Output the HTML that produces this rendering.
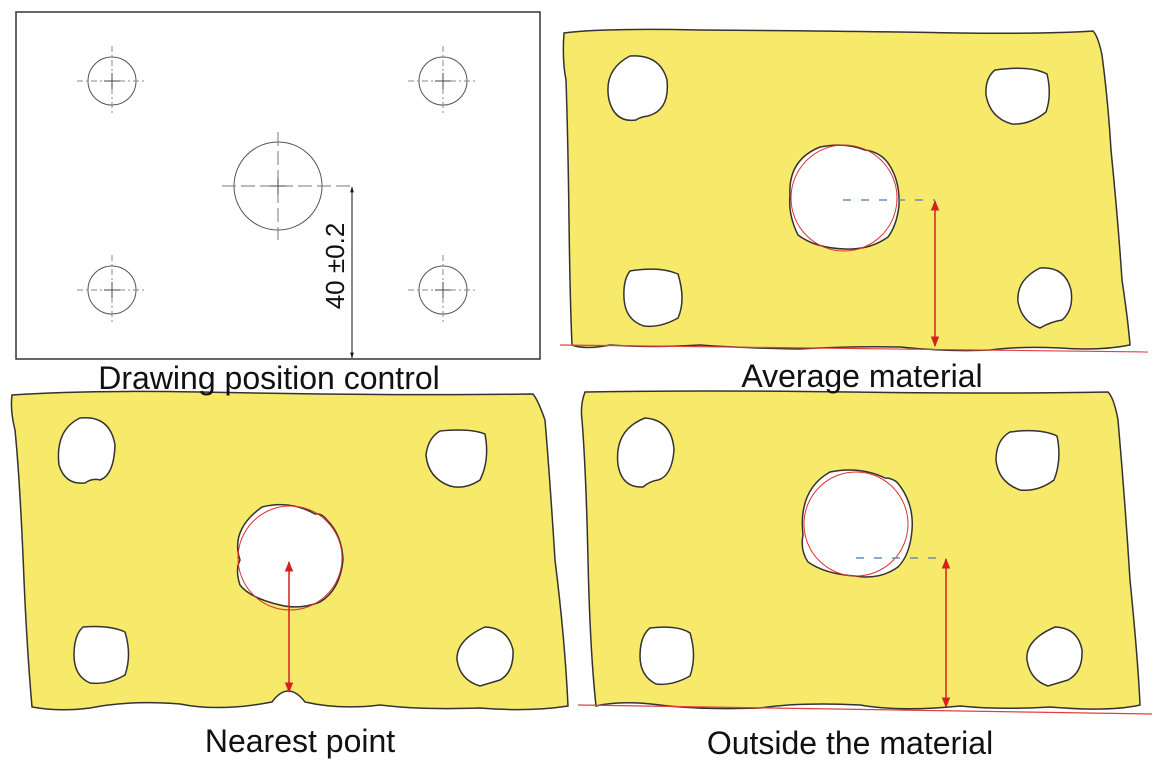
<!DOCTYPE html>
<html><head><meta charset="utf-8"><style>
html,body{margin:0;padding:0;background:#fff;}
svg{display:block;}
text{font-family:"Liberation Sans",sans-serif;fill:#111;}
</style></head><body>
<svg width="1163" height="764" viewBox="0 0 1163 764" xmlns="http://www.w3.org/2000/svg">
<defs>
<marker id="ar" viewBox="0 0 10 10" refX="9" refY="5" markerWidth="7" markerHeight="7" orient="auto-start-reverse"><path d="M0,1 L10,5 L0,9 z" fill="#d42020"/></marker>
<marker id="ak" viewBox="0 0 10 10" refX="9" refY="5" markerWidth="6" markerHeight="6" orient="auto-start-reverse"><path d="M0,2 L10,5 L0,8 z" fill="#111"/></marker>
</defs>

<!-- Panel 1 -->
<rect x="16" y="12" width="524" height="347" fill="#fff" stroke="#333" stroke-width="1.5"/>
<g fill="none" stroke="#555" stroke-width="1">
<circle cx="112" cy="81" r="24"/><circle cx="443" cy="81" r="24"/>
<circle cx="112" cy="290" r="24"/><circle cx="443" cy="290" r="24"/>
<circle cx="278" cy="186" r="44"/>
</g>
<g stroke="#888" stroke-width="1" stroke-dasharray="6,3,2,3">
<line x1="77" y1="81" x2="147" y2="81"/><line x1="112" y1="46" x2="112" y2="116"/>
<line x1="408" y1="81" x2="478" y2="81"/><line x1="443" y1="46" x2="443" y2="116"/>
<line x1="77" y1="290" x2="147" y2="290"/><line x1="112" y1="255" x2="112" y2="325"/>
<line x1="408" y1="290" x2="478" y2="290"/><line x1="443" y1="255" x2="443" y2="325"/>
</g>
<g stroke="#777" stroke-width="1" stroke-dasharray="14,5">
<line x1="222" y1="186" x2="355" y2="186"/><line x1="278" y1="132" x2="278" y2="240"/>
</g>
<g stroke="#444" stroke-width="1">
<line x1="104" y1="81" x2="120" y2="81"/><line x1="112" y1="73" x2="112" y2="89"/>
<line x1="435" y1="81" x2="451" y2="81"/><line x1="443" y1="73" x2="443" y2="89"/>
<line x1="104" y1="290" x2="120" y2="290"/><line x1="112" y1="282" x2="112" y2="298"/>
<line x1="435" y1="290" x2="451" y2="290"/><line x1="443" y1="282" x2="443" y2="298"/>
<line x1="270" y1="186" x2="286" y2="186"/><line x1="278" y1="178" x2="278" y2="194"/>
</g>
<line x1="352" y1="187" x2="352" y2="358" stroke="#111" stroke-width="1" marker-start="url(#ak)" marker-end="url(#ak)"/>
<text x="0" y="0" font-size="26" text-anchor="middle" transform="translate(344,266) rotate(-90)">40 ±0.2</text>

<!-- Panel 2 -->
<path d="M564,33 Q600,28 700,30 Q850,31 960,33 Q1050,34 1093,31 Q1098,36 1102,55 Q1108,100 1111,150 Q1118,220 1122,280 Q1128,320 1130,345 Q1100,351 1060,348 Q1020,346 990,350 Q950,352 900,347 Q850,346 800,349 Q740,348 700,345 Q650,348 610,345 Q585,350 572,345 Q570,300 569,220 Q568,140 566,80 Q562,60 564,33 Z" fill="#f7e96a" stroke="#333" stroke-width="1.5"/>
<g fill="#fff" stroke="#333" stroke-width="1.5">
<path d="M630,56 Q660,54 667,80 Q670,110 648,116 Q640,117 636,120 Q615,123 609,100 Q603,70 630,56 Z"/>
<path d="M995,70 Q1030,65 1047,74 Q1052,95 1046,112 Q1030,125 1012,124 Q990,118 986,95 Q985,78 995,70 Z"/>
<path d="M630,271 Q660,266 678,274 Q686,300 678,318 Q660,328 644,326 Q625,320 624,298 Q623,280 630,271 Z"/>
<path d="M1040,268 Q1065,266 1071,290 Q1074,310 1062,320 Q1050,322 1040,328 Q1022,322 1018,302 Q1016,280 1040,268 Z"/>
<path d="M820,147 Q845,142 865,150 Q880,152 888,163 Q900,180 899,205 Q897,225 888,237 Q870,250 845,249 Q815,248 798,235 Q788,215 790,195 Q788,160 820,147 Z"/>
</g>
<circle cx="844" cy="198" r="53" fill="none" stroke="#e03030" stroke-width="1"/>
<line x1="843" y1="200" x2="935" y2="200" stroke="#6a8fb8" stroke-width="1.5" stroke-dasharray="8,10"/>
<line x1="560" y1="345" x2="1148" y2="352" stroke="#e04040" stroke-width="1.2"/>
<line x1="935" y1="201" x2="935" y2="346" stroke="#d42020" stroke-width="1.5" marker-start="url(#ar)" marker-end="url(#ar)"/>

<!-- Panel 3 -->
<path d="M12,395 Q80,390 200,392 Q400,396 533,394 Q538,400 545,420 Q550,480 555,560 Q565,640 568,706 Q530,712 480,708 Q420,710 380,705 Q340,710 305,702 Q288,680 272,702 Q220,712 180,704 Q130,700 90,708 Q60,712 32,707 Q27,650 24,580 Q20,480 15,430 Q10,410 12,395 Z" fill="#f7e96a" stroke="#333" stroke-width="1.5"/>
<g fill="#fff" stroke="#333" stroke-width="1.5">
<path d="M80,418 Q110,415 115,445 Q114,475 100,480 Q92,478 85,483 Q65,485 59,465 Q55,430 80,418 Z"/>
<path d="M440,431 Q470,428 485,434 Q490,460 480,480 Q465,490 450,486 Q428,478 426,455 Q428,438 440,431 Z"/>
<path d="M83,627 Q110,625 125,632 Q132,655 125,675 Q108,685 90,683 Q74,676 74,655 Q74,635 83,627 Z"/>
<path d="M485,627 Q508,628 513,650 Q514,672 500,680 Q490,683 480,686 Q460,680 457,660 Q456,640 485,627 Z"/>
<path d="M262,507 Q290,500 315,514 Q322,513 327,520 Q342,535 343,560 Q340,590 320,602 Q300,610 280,605 Q250,598 240,585 Q235,570 240,560 Q230,530 262,507 Z"/>
</g>
<circle cx="290" cy="558" r="52" fill="none" stroke="#e03030" stroke-width="1"/>
<line x1="289" y1="562" x2="289" y2="692" stroke="#d42020" stroke-width="1.5" marker-start="url(#ar)" marker-end="url(#ar)"/>

<!-- Panel 4 -->
<path d="M585,392 Q700,390 850,392 Q1000,394 1108,392 Q1114,398 1118,420 Q1125,500 1130,580 Q1138,660 1140,705 Q1110,712 1050,707 Q1000,710 960,706 Q900,712 860,705 Q800,702 760,708 Q700,710 660,705 Q620,700 596,706 Q590,650 588,560 Q586,470 582,420 Q580,405 585,392 Z" fill="#f7e96a" stroke="#333" stroke-width="1.5"/>
<g fill="#fff" stroke="#333" stroke-width="1.5">
<path d="M645,418 Q672,420 674,450 Q672,476 658,480 Q650,481 643,487 Q622,488 618,465 Q614,430 645,418 Z"/>
<path d="M1010,432 Q1040,428 1057,436 Q1062,460 1054,480 Q1038,492 1020,490 Q998,482 996,460 Q996,440 1010,432 Z"/>
<path d="M650,628 Q678,625 690,633 Q697,656 690,676 Q672,686 656,684 Q640,676 640,656 Q640,636 650,628 Z"/>
<path d="M1055,627 Q1078,628 1082,650 Q1083,672 1068,680 Q1058,683 1048,686 Q1030,680 1027,660 Q1025,640 1055,627 Z"/>
<path d="M830,472 Q860,466 885,478 Q895,478 900,486 Q914,505 912,530 Q910,555 898,567 Q880,580 855,576 Q825,574 808,562 Q800,550 803,535 Q798,490 830,472 Z"/>
</g>
<circle cx="856" cy="524" r="52" fill="none" stroke="#e03030" stroke-width="1"/>
<line x1="856" y1="558" x2="946" y2="558" stroke="#6a8fb8" stroke-width="1.5" stroke-dasharray="8,10"/>
<line x1="578" y1="705" x2="1152" y2="714" stroke="#e04040" stroke-width="1.2"/>
<line x1="946" y1="559" x2="946" y2="707" stroke="#d42020" stroke-width="1.5" marker-start="url(#ar)" marker-end="url(#ar)"/>

<!-- Labels -->
<text x="269" y="389" font-size="32" text-anchor="middle">Drawing position control</text>
<text x="862" y="387" font-size="32" text-anchor="middle">Average material</text>
<text x="300" y="752" font-size="32" text-anchor="middle">Nearest point</text>
<text x="850" y="754" font-size="32" text-anchor="middle">Outside the material</text>
</svg>
</body></html>
